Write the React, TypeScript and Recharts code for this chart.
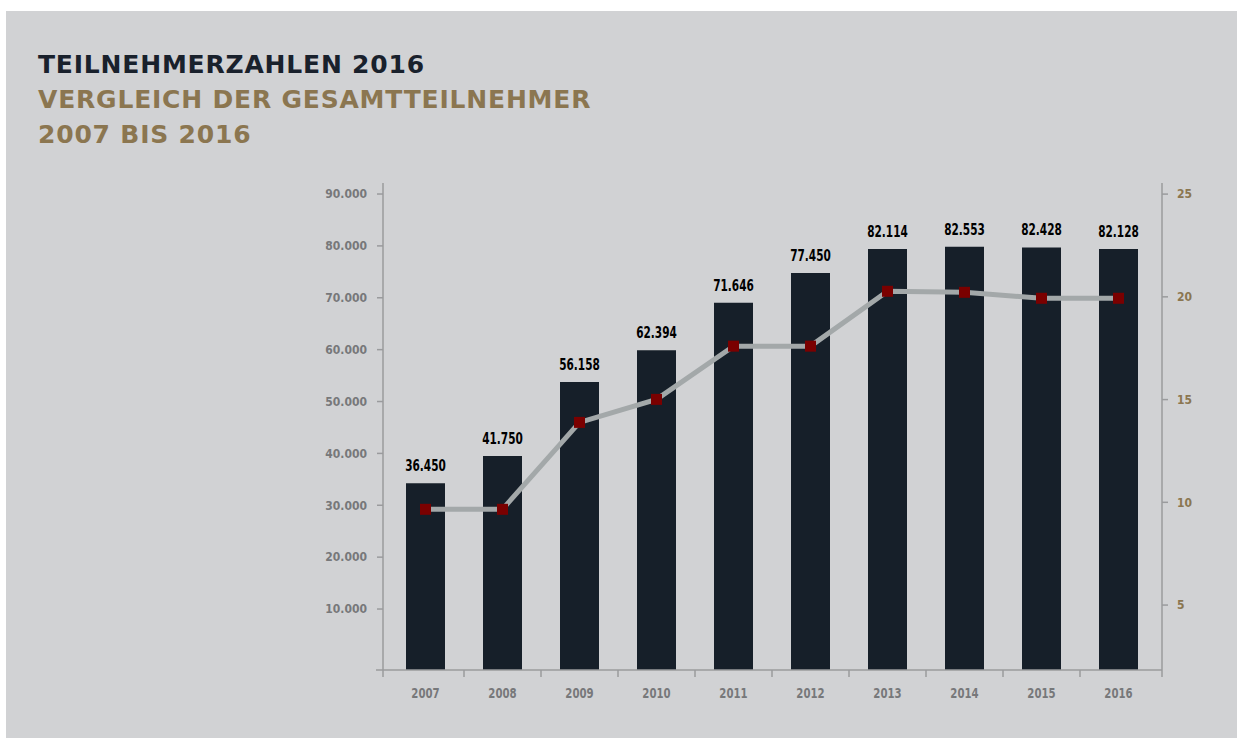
import { Bar, ComposedChart, LabelList, Line, XAxis, YAxis } from "recharts";

const years = ["2007", "2008", "2009", "2010", "2011", "2012", "2013", "2014", "2015", "2016"];
const participants = [36450, 41750, 56158, 62394, 71646, 77450, 82114, 82553, 82428, 82128];
const secondValues = [9.66, 9.66, 13.89, 15.01, 17.6, 17.6, 20.27, 20.22, 19.93, 19.93];
const leftTicks = [10000, 20000, 30000, 40000, 50000, 60000, 70000, 80000, 90000];
const rightTicks = [5, 10, 15, 20, 25];

const data = years.map((year, i) => ({
  year,
  participants: participants[i],
  second: secondValues[i],
}));

// German thousands separator
const fmt = (v: number) => String(v).replace(/\B(?=(\d{3})+(?!\d))/g, ".");

const BG = "#d1d2d4";
const DARK = "#161f29";
const GOLD = "#8b7650";
const GREY_TXT = "#77787a";
const AXIS = "#9a9b9d";
const COND = "'DejaVu Sans Condensed', sans-serif";

const PLOT_LEFT = 83;
const PLOT_RIGHT = 862;
const HALF_GAP = 38.5;

const XTick = (props: any) => {
  const { x, y, payload, index } = props;
  const lines: number[] = [];
  if (index < years.length - 1) lines.push(x + HALF_GAP);
  if (index === 0) lines.push(PLOT_LEFT);
  if (index === years.length - 1) lines.push(PLOT_RIGHT);
  return (
    <g>
      {lines.map((lx, i) => (
        <line key={i} x1={lx} x2={lx} y1={y} y2={y + 7} stroke={AXIS} strokeWidth={1.5} />
      ))}
      {index === 0 && <line x1={PLOT_LEFT - 7} x2={PLOT_LEFT} y1={y} y2={y} stroke={AXIS} strokeWidth={1.5} />}
      <text
        transform={`translate(${x},${y + 28}) scale(0.78,1)`}
        textAnchor="middle"
        fill={GREY_TXT}
        fontFamily={COND}
        fontWeight="bold"
        fontSize={14.5}
      >
        {payload.value}
      </text>
    </g>
  );
};

const BarLabel = (props: any) => {
  const { x, y, width, value } = props;
  return (
    <text
      transform={`translate(${x + width / 2},${y - 12}) scale(0.78,1)`}
      textAnchor="middle"
      fill="#000"
      fontFamily={COND}
      fontWeight="bold"
      fontSize={15}
    >
      {fmt(Number(value))}
    </text>
  );
};

const SquareDot = (props: any) => {
  const { cx, cy } = props;
  if (cx == null || cy == null) return null;
  return <rect x={cx - 5.5} y={cy - 5.5} width={11} height={11} fill="#7a0000" />;
};

export default function App() {
  return (
    <div style={{ position: "absolute", left: 0, top: 0, width: 1237, height: 738, background: "#fff" }}>
      <div style={{ position: "absolute", left: 6, top: 11, width: 1231, height: 727, background: BG }} />
      <div
        style={{
          position: "absolute",
          left: 38,
          top: 47,
          fontFamily: "'DejaVu Sans', sans-serif",
          fontWeight: "bold",
          fontSize: 25,
          lineHeight: "35px",
          letterSpacing: 0.8,
          whiteSpace: "nowrap",
        }}
      >
        <div style={{ color: "#19212c" }}>TEILNEHMERZAHLEN 2016</div>
        <div style={{ color: GOLD }}>VERGLEICH DER GESAMTTEILNEHMER</div>
        <div style={{ color: GOLD }}>2007 BIS 2016</div>
      </div>
      <div style={{ position: "absolute", left: 300, top: 170 }}>
        <ComposedChart
          width={920}
          height={550}
          data={data}
          margin={{ top: 13, right: 0, bottom: 0, left: 0 }}
          barCategoryGap={0}
        >
          <XAxis
            dataKey="year"
            tick={<XTick />}
            tickLine={false}
            tickSize={0}
            tickMargin={0}
            axisLine={{ stroke: AXIS, strokeWidth: 1.5 }}
            padding={{ left: 4, right: 5 }}
            height={50}
            interval={0}
          />
          <YAxis yAxisId="bars" hide width={0} domain={[0, 95000]} />
          <YAxis
            yAxisId="left"
            orientation="left"
            width={83}
            domain={[-1754, 92125]}
            ticks={leftTicks}
            allowDataOverflow
            tickFormatter={fmt}
            tickSize={6}
            tickMargin={10}
            tickLine={{ stroke: AXIS, strokeWidth: 1.5 }}
            axisLine={{ stroke: AXIS, strokeWidth: 1.5 }}
            tick={{ fill: GREY_TXT, fontSize: 12, fontWeight: "bold", fontFamily: COND }}
          />
          <YAxis
            yAxisId="right"
            orientation="right"
            width={58}
            domain={[1.84, 25.54]}
            ticks={rightTicks}
            allowDataOverflow
            tickSize={6}
            tickMargin={9}
            tickLine={{ stroke: AXIS, strokeWidth: 1.5 }}
            axisLine={{ stroke: AXIS, strokeWidth: 1.5 }}
            tick={{ fill: GOLD, fontSize: 12, fontWeight: "bold", fontFamily: COND }}
          />
          <Bar yAxisId="bars" dataKey="participants" fill={DARK} barSize={39} isAnimationActive={false}>
            <LabelList dataKey="participants" content={<BarLabel />} />
          </Bar>
          <Line
            yAxisId="right"
            dataKey="second"
            stroke="#a3a8a9"
            strokeWidth={5}
            dot={<SquareDot />}
            activeDot={false}
            isAnimationActive={false}
          />
        </ComposedChart>
      </div>
    </div>
  );
}
